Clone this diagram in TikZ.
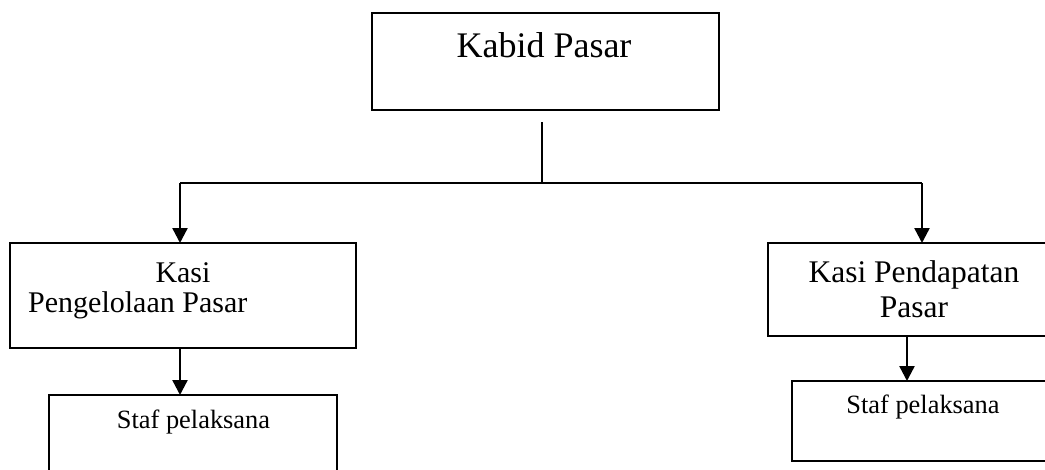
\documentclass[tikz,border=0pt]{standalone}
\usepackage{fontspec}
\setmainfont{Liberation Serif}
\usetikzlibrary{arrows.meta}
\begin{document}
\begin{tikzpicture}[x=1pt,y=-1pt,
  box/.style={draw,line width=2pt,rectangle,inner sep=0pt,outer sep=0pt},
  txt/.style={inner sep=0pt,anchor=base},
  link/.style={line width=2.4pt},
  arr/.style={line width=2.4pt,-{Triangle[length=15pt,width=15pt]}}]
  \useasboundingbox (0,0) rectangle (1045,469);
  \clip (0,0) rectangle (1045,469);

  % head of the division
  \node[box,minimum width=347pt,minimum height=97pt] (kabid) at (545.5,61.5) {};
  \node[txt,font=\fontsize{36}{43}\selectfont] (kabidT) at (544,57) {Kabid Pasar};

  % section heads
  \node[box,minimum width=346pt,minimum height=105pt] (kasiL) at (183,295.5) {};
  \node[txt,font=\fontsize{30}{36}\selectfont] (kasiLa) at (183,282) {Kasi};
  \node[txt,font=\fontsize{30}{36}\selectfont,anchor=base west] (kasiLb) at (28,312) {Pengelolaan Pasar};

  \node[box,minimum width=300pt,minimum height=93pt] (kasiR) at (918,289.5) {};
  \node[txt,font=\fontsize{31.5}{38}\selectfont] (kasiRa) at (914,282) {Kasi Pendapatan};
  \node[txt,font=\fontsize{31.5}{38}\selectfont] (kasiRb) at (914,317) {Pasar};

  % staff
  \node[box,minimum width=288pt,minimum height=100pt] (stafL) at (193,445) {};
  \node[txt,font=\fontsize{26.4}{32}\selectfont] (stafLT) at (193.5,428) {Staf pelaksana};

  \node[box,minimum width=280pt,minimum height=80pt] (stafR) at (932,421) {};
  \node[txt,font=\fontsize{26.4}{32}\selectfont] (stafRT) at (923,413) {Staf pelaksana};

  % connectors
  \coordinate (stem) at (542,122);
  \coordinate (jL) at (180,183);
  \coordinate (jR) at (922,183);
  \coordinate (dR) at (907,336);

  \draw[link] (stem) -- (stem |- jL);
  \draw[link] (jL) -- (jR);
  \draw[arr] (jL) -- (jL |- kasiL.north);
  \draw[arr] (jR) -- (jR |- kasiR.north);
  \draw[arr] (jL |- kasiL.south) -- (jL |- stafL.north);
  \draw[arr] (dR |- kasiR.south) -- (dR |- stafR.north);
\end{tikzpicture}
\end{document}
